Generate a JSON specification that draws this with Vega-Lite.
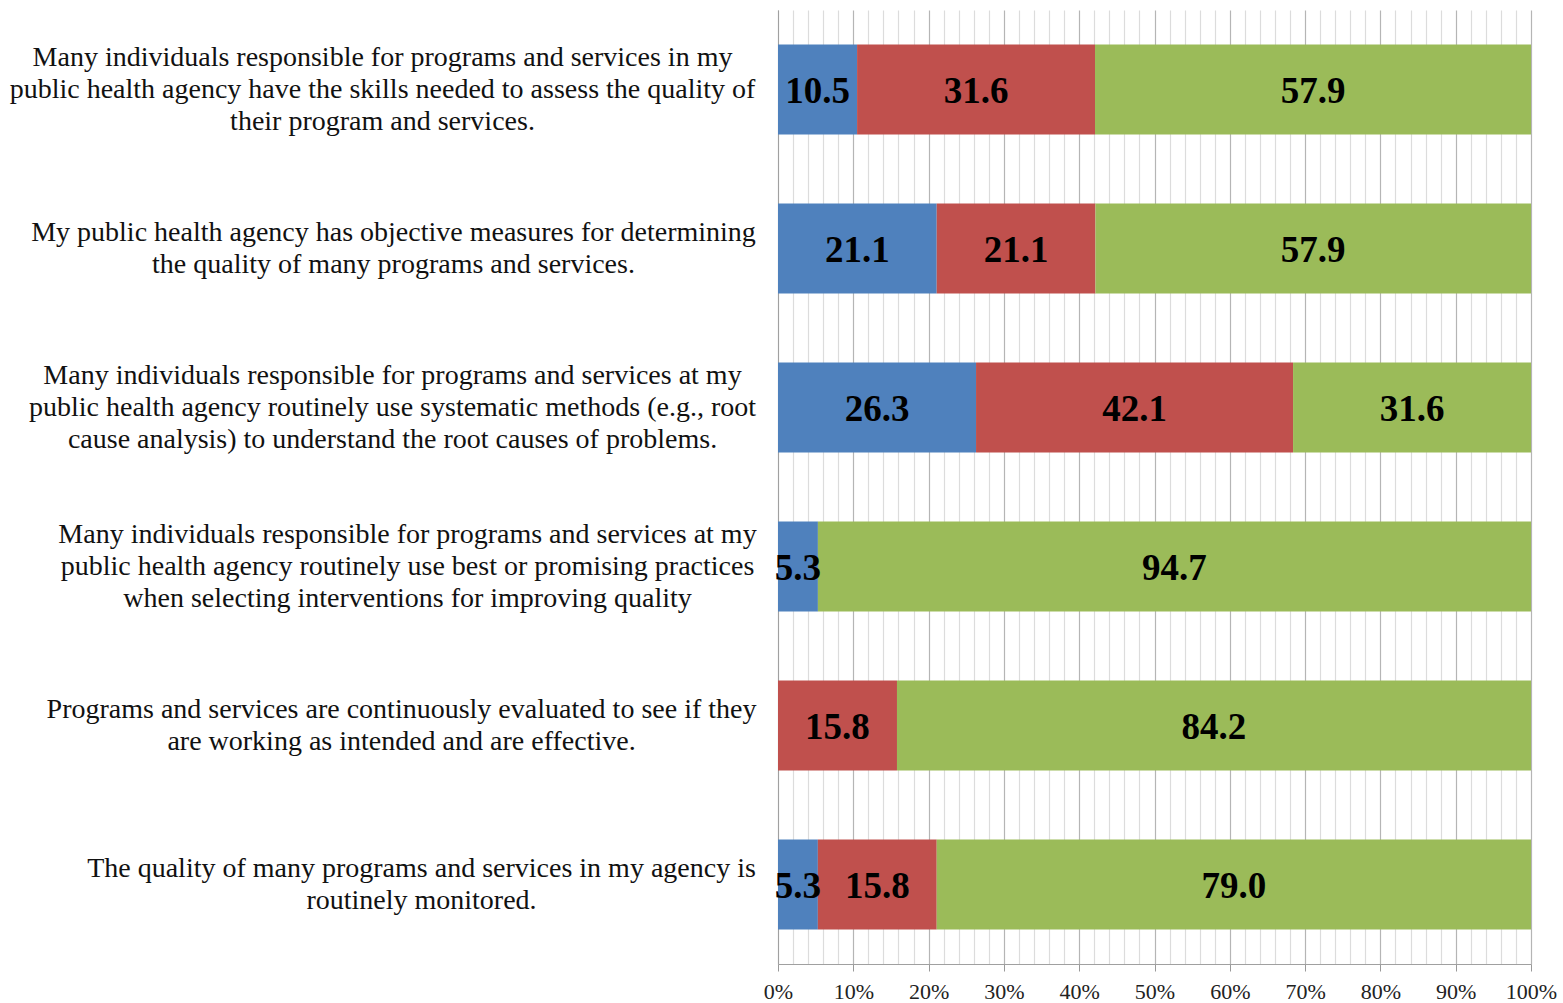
{
  "$schema": "https://vega.github.io/schema/vega-lite/v6.json",
  "width": 753,
  "height": 954,
  "autosize": {"type": "none"},
  "padding": {"left": 778, "top": 10, "right": 32, "bottom": 39},
  "background": "white",
  "config": {"view": {"stroke": null}, "font": "Liberation Serif"},
  "data": {
    "values": [
      {"question": "Many individuals responsible for programs and services in my|public health agency have the skills needed to assess the quality of|their program and services.", "response": "Disagree", "pct": 10.5},
      {"question": "Many individuals responsible for programs and services in my|public health agency have the skills needed to assess the quality of|their program and services.", "response": "Neutral", "pct": 31.6},
      {"question": "Many individuals responsible for programs and services in my|public health agency have the skills needed to assess the quality of|their program and services.", "response": "Agree", "pct": 57.9},
      {"question": "My public health agency has objective measures for determining|the quality of many programs and services.", "response": "Disagree", "pct": 21.1},
      {"question": "My public health agency has objective measures for determining|the quality of many programs and services.", "response": "Neutral", "pct": 21.1},
      {"question": "My public health agency has objective measures for determining|the quality of many programs and services.", "response": "Agree", "pct": 57.9},
      {"question": "Many individuals responsible for programs and services at my|public health agency routinely use systematic methods (e.g., root|cause analysis) to understand the root causes of problems.", "response": "Disagree", "pct": 26.3},
      {"question": "Many individuals responsible for programs and services at my|public health agency routinely use systematic methods (e.g., root|cause analysis) to understand the root causes of problems.", "response": "Neutral", "pct": 42.1},
      {"question": "Many individuals responsible for programs and services at my|public health agency routinely use systematic methods (e.g., root|cause analysis) to understand the root causes of problems.", "response": "Agree", "pct": 31.6},
      {"question": "Many individuals responsible for programs and services at my|public health agency routinely use best or promising practices|when selecting interventions for improving quality", "response": "Disagree", "pct": 5.3},
      {"question": "Many individuals responsible for programs and services at my|public health agency routinely use best or promising practices|when selecting interventions for improving quality", "response": "Agree", "pct": 94.7},
      {"question": "Programs and services are continuously evaluated to see if they|are working as intended and are effective.", "response": "Neutral", "pct": 15.8},
      {"question": "Programs and services are continuously evaluated to see if they|are working as intended and are effective.", "response": "Agree", "pct": 84.2},
      {"question": "The quality of many programs and services in my agency is|routinely monitored.", "response": "Disagree", "pct": 5.3},
      {"question": "The quality of many programs and services in my agency is|routinely monitored.", "response": "Neutral", "pct": 15.8},
      {"question": "The quality of many programs and services in my agency is|routinely monitored.", "response": "Agree", "pct": 79.0}
    ]
  },
  "transform": [
    {"calculate": "indexof(['Disagree','Neutral','Agree'], datum.response)", "as": "k"},
    {"stack": "pct", "groupby": ["question"], "sort": [{"field": "k", "order": "ascending"}], "offset": "normalize", "as": ["x0", "x1"]},
    {"calculate": "(datum.x0 + datum.x1) / 2", "as": "xm"}
  ],
  "encoding": {
    "y": {
      "field": "question",
      "type": "nominal",
      "sort": null,
      "scale": {"paddingInner": 0.434, "paddingOuter": 0.217},
      "axis": {
        "title": null,
        "ticks": false,
        "grid": false,
        "domain": true,
        "domainColor": "#a0a0a0",
        "labelExpr": "split(datum.label, '|')",
        "labelAlign": "center",
        "labelBaseline": "middle",
        "labelFontSize": 28,
        "labelLineHeight": 32,
        "labelColor": "#111111",
        "labelLimit": 2000,
        "labelOffset": {
          "condition": {"test": "length(split(datum.value, '|')) === 3", "value": -32},
          "value": -16
        },
        "labelPadding": {
          "condition": [
            {"test": "indexof(datum.value, 'skills') >= 0", "value": 396},
            {"test": "indexof(datum.value, 'objective') >= 0", "value": 385},
            {"test": "indexof(datum.value, 'systematic') >= 0", "value": 386},
            {"test": "indexof(datum.value, 'promising') >= 0", "value": 371},
            {"test": "indexof(datum.value, 'continuously') >= 0", "value": 377}
          ],
          "value": 357
        }
      }
    }
  },
  "layer": [
    {
      "mark": {"type": "bar"},
      "encoding": {
        "x": {
          "field": "x0",
          "type": "quantitative",
          "scale": {"domain": [0, 1], "nice": false},
          "axis": {
            "title": null,
            "values": [0,0.02,0.04,0.06,0.08,0.1,0.12,0.14,0.16,0.18,0.2,0.22,0.24,0.26,0.28,0.3,0.32,0.34,0.36,0.38,0.4,0.42,0.44,0.46,0.48,0.5,0.52,0.54,0.56,0.58,0.6,0.62,0.64,0.66,0.68,0.7,0.72,0.74,0.76,0.78,0.8,0.82,0.84,0.86,0.88,0.9,0.92,0.94,0.96,0.98,1],
            "format": ".0%",
            "labelExpr": "round(datum.value * 100) % 10 === 0 ? datum.label : ''",
            "labelOverlap": false,
            "labelFlush": false,
            "labelFontSize": 22,
            "labelColor": "#222222",
            "labelPadding": 10,
            "grid": true,
            "gridColor": {"condition": {"test": "round(datum.value * 100) % 10 === 0", "value": "#b5b5b5"}, "value": "#dcdcdc"},
            "gridWidth": 1.2,
            "tickColor": {"condition": {"test": "round(datum.value * 100) % 10 === 0", "value": "#999999"}, "value": "transparent"},
            "tickSize": 7,
            "domainColor": "#a0a0a0"
          }
        },
        "x2": {"field": "x1"},
        "color": {
          "field": "response",
          "type": "nominal",
          "scale": {"domain": ["Disagree", "Neutral", "Agree"], "range": ["#4F81BD", "#C0504D", "#9BBB59"]},
          "legend": null
        }
      }
    },
    {
      "mark": {"type": "text", "fontSize": 37, "fontWeight": "bold", "font": "Liberation Serif", "color": "#000000", "baseline": "middle", "dy": 2},
      "encoding": {
        "x": {
          "field": "xm",
          "type": "quantitative",
          "axis": {
            "title": null,
            "values": [0,0.02,0.04,0.06,0.08,0.1,0.12,0.14,0.16,0.18,0.2,0.22,0.24,0.26,0.28,0.3,0.32,0.34,0.36,0.38,0.4,0.42,0.44,0.46,0.48,0.5,0.52,0.54,0.56,0.58,0.6,0.62,0.64,0.66,0.68,0.7,0.72,0.74,0.76,0.78,0.8,0.82,0.84,0.86,0.88,0.9,0.92,0.94,0.96,0.98,1],
            "format": ".0%",
            "labelExpr": "round(datum.value * 100) % 10 === 0 ? datum.label : ''",
            "labelOverlap": false,
            "labelFlush": false,
            "labelFontSize": 22,
            "labelColor": "#222222",
            "labelPadding": 10,
            "grid": true,
            "gridColor": {"condition": {"test": "round(datum.value * 100) % 10 === 0", "value": "#b5b5b5"}, "value": "#dcdcdc"},
            "gridWidth": 1.2,
            "tickColor": {"condition": {"test": "round(datum.value * 100) % 10 === 0", "value": "#999999"}, "value": "transparent"},
            "tickSize": 7,
            "domainColor": "#a0a0a0"
          }
        },
        "text": {"field": "pct", "type": "quantitative", "format": ".1f"}
      }
    }
  ]
}
